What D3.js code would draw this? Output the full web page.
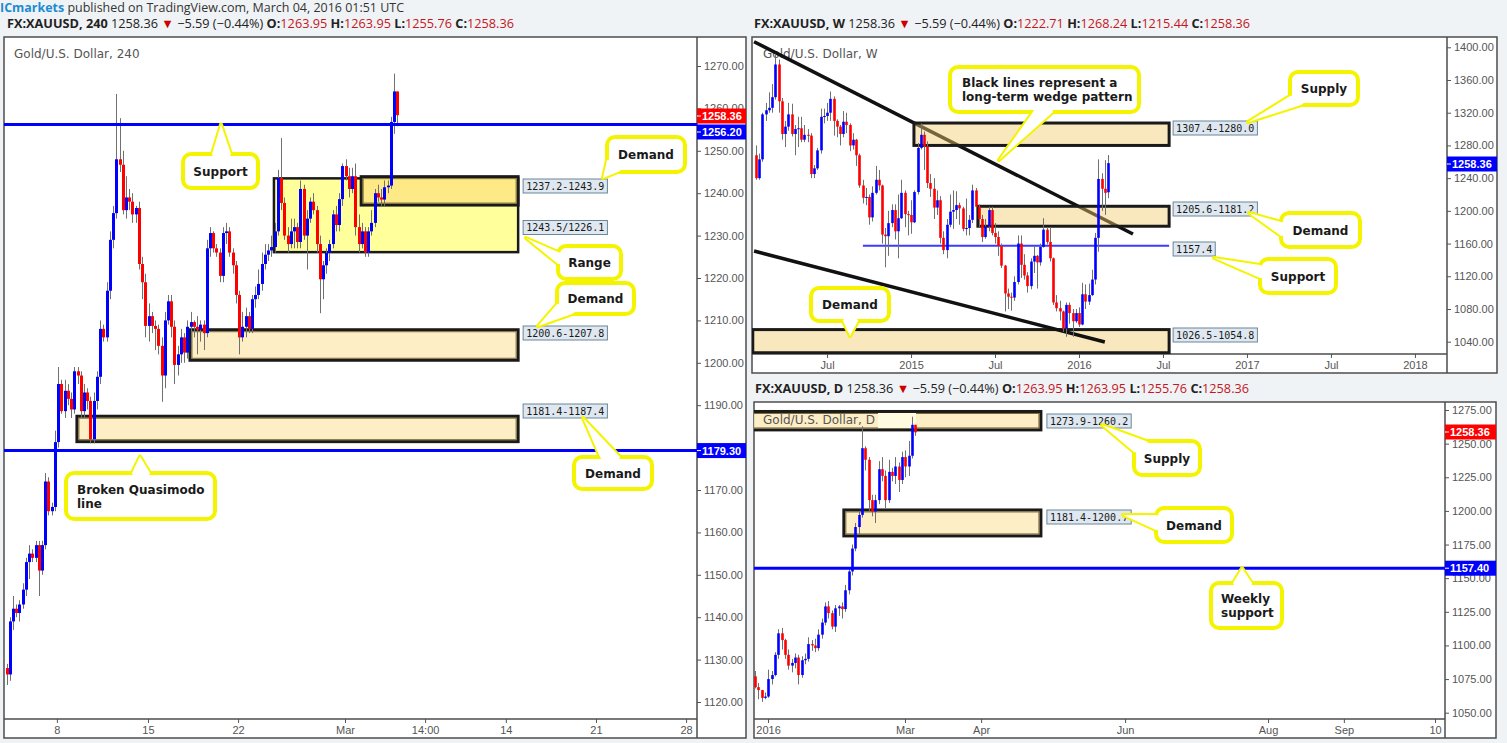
<!DOCTYPE html>
<html><head><meta charset="utf-8">
<script src="https://cdn.jsdelivr.net/npm/d3@7"></script>
<style>body{margin:0;background:#f0f3f6;}svg{display:block;}</style>
</head><body>
<svg id="c" width="1507" height="743"></svg>
<script>
// ---------------- DATA ----------------
// 240-minute candles [open, high, low, close]
const h4Candles = [
[1128,1129,1124,1126.5],[1126.5,1140,1125,1139],[1139,1145,1137,1142],[1142,1143,1140,1141],
[1141,1144,1139,1143],[1143,1148,1142,1146.5],[1146.5,1154,1145,1153],[1153,1157,1149,1155],
[1155,1156,1153,1154],[1154,1158,1153,1157],[1157,1158,1145,1151],[1151,1158,1150,1157],
[1157,1174,1156,1172],[1172,1173,1164,1165],[1165,1167,1164,1166],[1166,1184,1165,1181.3],
[1181.3,1199,1180,1195],[1195,1196,1188,1188.6],[1188.6,1196,1187,1193.4],[1193.4,1195,1190,1191.5],
[1191.5,1193,1187,1189],[1189,1199,1188,1198],[1198,1199,1195,1197],[1197,1198,1187,1188.6],
[1188.6,1195,1187,1193],[1193,1194,1189,1191],[1191,1192,1181,1182],[1182,1193,1181,1191],
[1191,1198,1189,1196.7],[1196.7,1210,1195,1208],[1208,1209,1205,1206],[1206,1219,1205,1217],
[1217,1231,1215,1229],[1229,1237,1227,1235.3],[1235.3,1263.4,1234,1248],[1248,1257.7,1245,1246.7],
[1246.7,1250,1235,1236],[1236,1244,1234,1239],[1239,1241,1236,1238],[1238,1240,1233,1235],
[1235,1237,1233,1236.5],[1236.5,1238,1222,1223.3],[1223.3,1225,1215,1219],[1219,1221,1206,1208.7],
[1208.7,1214,1205,1211],[1211,1212,1207,1208.7],[1208.7,1210,1203,1208],[1208,1209,1202,1204],
[1204,1206,1190.8,1197],[1197,1212,1194,1210],[1210,1216,1209,1214.5],[1214.5,1216,1206,1208.5],
[1208.5,1210,1195,1199.5],[1199.5,1204,1197,1202],[1202,1208,1200,1206],[1206,1207,1200,1202.4],
[1202.4,1210,1201,1208.5],[1208.5,1212,1203,1209.6],[1209.6,1210,1206,1208.5],[1208.5,1211,1202,1207.8],
[1207.8,1210,1205,1209],[1209,1210,1203,1207],[1207,1229,1206,1227],[1227,1232,1225,1230.6],
[1230.6,1231,1226,1227],[1227,1228,1225,1226],[1226,1227,1219,1220.5],[1220.5,1232,1219,1230.6],
[1230.6,1233,1228,1231],[1231,1232,1225,1226],[1226,1227,1221,1223],[1223,1224,1214,1216],
[1216,1217,1202,1206],[1206,1212,1205,1208.5],[1208.5,1213,1206,1211],[1211,1212,1207,1208],
[1208,1216,1207,1215],[1215,1218,1213,1216],[1216,1222,1215,1218.6],[1218.6,1226,1217,1223.3],
[1223.3,1228,1222,1225.5],[1225.5,1228,1224,1226.5],[1226.5,1230,1225,1227.3],[1227.3,1233,1226,1231],
[1231,1245.5,1230,1243.6],[1243.6,1253,1236,1237.7],[1237.7,1239,1229,1230],[1230,1232,1226,1228],
[1228,1234,1227,1231],[1231,1234,1227,1232],[1232,1233,1227,1228.5],[1228.5,1243,1227,1241],
[1241,1242,1229,1230],[1230,1236,1222,1234],[1234,1239,1233,1238],[1238,1240,1235,1236],
[1236,1237,1226,1228],[1228,1230,1211.7,1219.7],[1219.7,1224,1215,1223],[1223,1227,1221,1225.9],
[1225.9,1229,1224,1228],[1228,1236,1227,1235],[1235,1237,1231,1232.5],[1232.5,1240,1231,1238.6],
[1238.6,1247,1237,1246.4],[1246.4,1248,1243,1244],[1244,1246,1239,1241],[1241,1246,1240,1244],
[1244,1247,1230,1232],[1232,1235,1226,1228],[1228,1233,1227,1231],[1231,1232,1225,1226],
[1226,1232,1225,1231],[1231,1236,1230,1233],[1233,1241,1232,1240],[1240,1242,1238,1239],
[1239,1241,1237,1238.5],[1238.5,1243,1237,1241.4],[1241.4,1243,1240,1241.8],[1241.8,1258,1241,1256.8],
[1256.8,1268.2,1254,1264],[1264,1264,1255.8,1258.4]
];
const h4YTicks = [1120,1130,1140,1150,1160,1170,1180,1190,1200,1210,1220,1230,1240,1250,1260,1270];
const h4XTickIdx = [15.6,43.8,71.7,104.8,129.6,154.6,182.5,210.4];
const h4XTickLabels = ["8","15","22","Mar","14:00","14","21","28"];
// zones: [low, high, startBar, endBar, label]
const h4Zones = [
  [1226.1,1243.5,82.8,158.4,"1243.5/1226.1"],
  [1237.2,1243.9,109.8,158.4,"1237.2-1243.9"],
  [1200.6,1207.8,56.8,158.4,"1200.6-1207.8"],
  [1181.4,1187.4,21.8,158.4,"1181.4-1187.4"]
];
const h4Levels = [1256.2,1179.3];

// weekly candles Jan 2014 - Mar 2016
const wCandles = [
[1268,1280,1238,1240],[1240,1270,1238,1263],[1263,1320,1260,1318],[1318,1332,1310,1323],[1323,1345,1320,1326],
[1326,1355,1320,1339],[1339,1392,1336,1379],[1379,1385,1320,1334],[1334,1338,1287,1294],[1294,1310,1278,1303],
[1303,1332,1298,1318],[1318,1331,1291,1294],[1294,1305,1268,1300],[1300,1315,1278,1301],[1301,1315,1284,1287],
[1287,1305,1284,1293],[1293,1300,1284,1292],[1292,1295,1240,1245],[1245,1256,1240,1252],[1252,1277,1250,1274],
[1274,1325,1270,1315],[1315,1325,1307,1316],[1316,1332,1310,1320],[1320,1346,1310,1337],[1337,1340,1292,1310],
[1310,1312,1290,1303],[1303,1305,1280,1294],[1294,1322,1290,1309],[1309,1320,1295,1305],[1305,1307,1273,1280],
[1280,1295,1275,1287],[1287,1288,1255,1268],[1268,1270,1228,1231],[1231,1238,1209,1216],[1216,1228,1207,1217],
[1217,1220,1183,1192],[1192,1230,1187,1222],[1222,1255,1220,1238],[1238,1250,1225,1231],[1231,1232,1160,1171],
[1171,1179,1131,1169],[1169,1200,1145,1185],[1185,1208,1180,1201],[1201,1208,1165,1175],[1175,1220,1142,1191],
[1191,1238,1190,1222],[1222,1225,1180,1196],[1196,1200,1170,1195],[1195,1213,1172,1186],[1186,1225,1185,1223],
[1223,1283,1220,1277],[1277,1307,1275,1293],[1293,1297,1250,1279],[1279,1285,1228,1234],[1234,1245,1217,1227],
[1227,1240,1190,1204],[1204,1225,1195,1213],[1213,1218,1160,1167],[1167,1175,1147,1152],[1152,1190,1142,1183],
[1183,1220,1180,1199],[1199,1225,1178,1201],[1201,1224,1190,1207],[1207,1210,1183,1203],[1203,1205,1175,1178],
[1178,1215,1170,1179],[1179,1195,1170,1189],[1189,1232,1185,1225],[1225,1228,1200,1205],[1205,1208,1180,1190],
[1190,1195,1162,1168],[1168,1190,1166,1181],[1181,1205,1175,1201],[1201,1205,1170,1173],[1173,1185,1160,1168],
[1168,1175,1145,1157],[1157,1160,1130,1133],[1133,1134,1077,1099],[1099,1105,1080,1095],[1095,1100,1078,1094],
[1094,1120,1090,1113],[1113,1170,1110,1160],[1160,1170,1118,1134],[1134,1147,1116,1121],[1121,1125,1100,1108],
[1108,1142,1104,1138],[1138,1157,1124,1145],[1145,1146,1105,1137],[1137,1160,1133,1156],[1156,1191,1155,1177],
[1177,1180,1159,1162],[1162,1180,1138,1142],[1142,1143,1085,1088],[1088,1097,1077,1081],[1081,1090,1066,1077],
[1077,1078,1052,1056],[1056,1088,1046,1085],[1085,1088,1062,1075],[1075,1080,1046,1065],[1065,1080,1063,1075],
[1075,1082,1058,1061],[1061,1112,1060,1098],[1098,1110,1080,1089],[1089,1111,1085,1097],[1097,1128,1096,1116],
[1116,1173,1110,1167],[1167,1263,1150,1239],[1239,1246,1200,1227],[1227,1262,1195,1222],[1222.71,1268.24,1215.44,1258.36]
];
const wYTicks = [1040,1080,1120,1160,1200,1240,1280,1320,1360,1400];
const wXTickIdx = [22,48,74,100,126,152,178,204];
const wXTickLabels = ["Jul","2015","Jul","2016","Jul","2017","Jul","2018"];
const wZones = [
  [1280.0,1307.4,48.9,127.9,"1307.4-1280.0"],
  [1181.2,1205.6,68.7,127.9,"1205.6-1181.2"],
  [1026.5,1054.8,-1,127.9,"1026.5-1054.8"]
];
const wSupport = [1157.4,33.1,127.9,"1157.4"];
// wedge lines [[bar, price],[bar, price]]
const wWedgeUpper = [[-0.6,1406.8],[116.7,1171.7]];
const wWedgeLower = [[-0.6,1150.9],[108,1039.6]];

// daily candles Dec 2015 - Mar 2016
const dCandles = [
[1077,1081,1068,1069],[1069,1072,1060,1066.8],[1066.8,1067,1058,1061],[1061,1065,1060,1062],
[1062,1082,1061,1075],[1075,1081,1071,1078],[1078,1095,1077,1093],[1093,1112,1090,1109],
[1109,1113,1097,1104],[1104,1105,1090,1093],[1093,1097,1082,1085],[1085,1090,1080,1087],
[1087,1094,1083,1091],[1091,1093,1071,1078],[1078,1092,1076,1089],[1089,1094,1086,1090],
[1090,1106,1088,1101],[1101,1104,1096,1100],[1100,1105,1095,1098],[1098,1112,1096,1108],
[1108,1120,1105,1117],[1117,1132,1115,1129],[1129,1133,1120,1124],[1124,1126,1112,1114],
[1114,1130,1110,1127.6],[1127.6,1130,1122,1129],[1129,1132,1120,1127],[1127,1145,1125,1141],
[1141,1158,1138,1155],[1155,1175,1152,1172],[1172,1191,1170,1188],[1188,1200,1183,1197],
[1197,1263,1195,1246.6],[1246.6,1248,1230,1238],[1238,1240,1200,1208],[1208,1212,1196,1199.5],
[1199.5,1212,1191,1208],[1208,1237,1205,1231],[1231,1240,1222,1226],[1226,1230,1202,1208],
[1208,1238,1206,1229],[1229,1232,1222,1226],[1226,1240,1220,1233],[1233,1236,1214,1223],
[1223,1244,1220,1240],[1240,1245,1225,1233],[1233,1252,1226,1241],[1241,1270,1239,1264],
[1264,1264,1255.8,1258.4]
];
const dYTicks = [1050,1075,1100,1125,1150,1175,1200,1225,1250,1275];
const dXTickIdx = [3.9,44.9,67.7,110.8,153.6,176.3,203.6];
const dXTickLabels = ["2016","Mar","Apr","Jun","Aug","Sep","10"];
const dZones = [
  [1260.2,1273.9,-1,85.6,"1273.9-1260.2"],
  [1181.4,1200.7,26.6,85.6,"1181.4-1200.7"]
];
const dLevel = 1157.4;

// ---------------- DRAWING ----------------
const svg = d3.select('#c');
const defs = svg.append('defs');
const AX_FONT = "'Liberation Sans', Arial, sans-serif";
const CO_FONT = "'DejaVu Sans', Verdana, sans-serif";
const MONO = "'DejaVu Sans Mono', monospace";
const HDR_FONT = "'Open Sans', 'Liberation Sans', sans-serif";

function header(x, y, parts, len) {
  const t = svg.append('text').attr('x', x).attr('y', y)
    .attr('font-family', HDR_FONT).attr('font-size', 12.5).attr('fill', '#222');
  parts.forEach(p => {
    t.append('tspan').text(p[0]).attr('fill', p[1] || '#222').attr('font-weight', p[2] ? 'bold' : 'normal');
  });
  if (len) t.attr('textLength', len).attr('lengthAdjust', 'spacingAndGlyphs');
}
function quote(sym, o, h, l, c) {
  return [[sym, '#222', true], [' 1258.36 ', '#222'], ['▼', '#c00'], [' −5.59 (−0.44%) ', '#222'],
    ['O:', '#222', true], [o, '#c4161c'], [' H:', '#222', true], [h, '#c4161c'],
    [' L:', '#222', true], [l, '#c4161c'], [' C:', '#222', true], [c, '#c4161c']];
}

header(0, 12, [['ICmarkets', '#1d8bd1', true], [' published on TradingView.com, March 04, 2016 01:51 UTC', '#333']], 404);
header(7, 28, quote('FX:XAUUSD, 240', '1263.95', '1263.95', '1255.76', '1258.36'), 507);
header(754, 28, quote('FX:XAUUSD, W', '1222.71', '1268.24', '1215.44', '1258.36'), 496);
header(755, 393, quote('FX:XAUUSD, D', '1263.95', '1263.95', '1255.76', '1258.36'), 494);

function panel(cfg) {
  const g = svg.append('g');
  const f = cfg.frame, p = cfg.plot;
  g.append('rect').attr('x', f[0]).attr('y', f[1]).attr('width', f[2] - f[0]).attr('height', f[3] - f[1])
    .attr('fill', '#fff').attr('stroke', '#4d4d4d').attr('stroke-width', 1.5);
  const id = 'clip' + cfg.id;
  defs.append('clipPath').attr('id', id).append('rect')
    .attr('x', p.l).attr('y', p.t).attr('width', p.r - p.l).attr('height', p.b - p.t);
  const x = cfg.x, y = cfg.y;
  const ya = g.append('g').attr('transform', `translate(${p.r},0)`)
    .call(d3.axisRight(y).tickValues(cfg.yTicks).tickFormat(d3.format('.2f')).tickSize(4).tickPadding(3));
  const xa = g.append('g').attr('transform', `translate(0,${p.b})`)
    .call(d3.axisBottom(x).tickValues(cfg.xTickIdx).tickFormat((d, i) => cfg.xTickLabels[i]).tickSize(4).tickPadding(3));
  [ya, xa].forEach(a => {
    a.select('.domain').remove();
    a.selectAll('line').attr('stroke', '#555');
    a.selectAll('text').attr('font-family', AX_FONT).attr('font-size', 11).attr('fill', '#555');
  });
  g.append('line').attr('x1', p.r).attr('x2', p.r).attr('y1', f[1]).attr('y2', f[3]).attr('stroke', '#4d4d4d').attr('stroke-width', 1.5);
  g.append('line').attr('x1', f[0]).attr('x2', p.r).attr('y1', p.b).attr('y2', p.b).attr('stroke', '#4d4d4d').attr('stroke-width', 1.5);
  const inner = g.append('g').attr('clip-path', `url(#${id})`);
  return {
    under: inner.append('g'), zones: inner.append('g'), candles: inner.append('g'),
    over: inner.append('g'), top: g.append('g')
  };
}

function drawCandles(layer, data, x, y, bw) {
  const g = layer.selectAll('g.c').data(data).join('g');
  g.append('line')
    .attr('x1', (d, i) => Math.round(x(i)) + 0.5).attr('x2', (d, i) => Math.round(x(i)) + 0.5)
    .attr('y1', d => y(d[1])).attr('y2', d => y(d[2]))
    .attr('stroke', '#707070').attr('stroke-width', 1);
  g.append('rect')
    .attr('x', (d, i) => Math.round(x(i)) + 0.5 - bw / 2)
    .attr('y', d => y(Math.max(d[0], d[3])))
    .attr('width', bw)
    .attr('height', d => Math.max(1, Math.abs(y(d[0]) - y(d[3]))))
    .attr('fill', d => d[3] >= d[0] ? '#0000ff' : '#ff0000');
}

function zoneRect(layer, x, y, z, fill, opts) {
  opts = opts || {};
  layer.append('rect')
    .attr('x', x(z[2])).attr('y', y(z[1]))
    .attr('width', x(z[3]) - x(z[2])).attr('height', y(z[0]) - y(z[1]))
    .attr('fill', fill).attr('fill-opacity', opts.op || 1)
    .attr('stroke', '#1a1a1a').attr('stroke-width', opts.sw || 2.5);
  if (opts.inner) {
    layer.append('rect')
      .attr('x', x(z[2]) + 2).attr('y', y(z[1]) + 2)
      .attr('width', x(z[3]) - x(z[2]) - 4).attr('height', y(z[0]) - y(z[1]) - 4)
      .attr('fill', 'none').attr('stroke', '#7a6a3a').attr('stroke-width', 1);
  }
}

function priceLabel(layer, px, cy, text) {
  const t = layer.append('text').attr('x', px + 3).attr('y', cy + 3.5)
    .attr('font-family', MONO).attr('font-size', 10).attr('fill', '#1a1a1a').text(text);
  const w = t.node().getComputedTextLength();
  layer.insert('rect', () => t.node()).attr('x', px).attr('y', cy - 7).attr('width', w + 6).attr('height', 14)
    .attr('fill', '#dfe8f0').attr('stroke', '#6b8599').attr('stroke-width', 1);
}

function tag(layer, ax, right, cy, text, color) {
  layer.append('rect').attr('x', ax).attr('y', cy - 7.5).attr('width', right - ax).attr('height', 15).attr('fill', color);
  layer.append('line').attr('x1', ax).attr('x2', ax + 4).attr('y1', cy).attr('y2', cy).attr('stroke', '#fff');
  layer.append('text').attr('x', ax + 5).attr('y', cy + 4).attr('font-family', AX_FONT).attr('font-size', 11)
    .attr('font-weight', 'bold').attr('fill', '#fff').text(text);
}

function callout(layer, box, tip, base, lines, opts) {
  opts = opts || {};
  const cx = box[0] + box[2] / 2, cy = box[1] + box[3] / 2;
  const tri = `M${base[0][0]},${base[0][1]}L${tip[0]},${tip[1]}L${base[1][0]},${base[1][1]}Z`;
  const inset = base.map(b => {
    const dx = cx - b[0], dy = cy - b[1], L = Math.hypot(dx, dy);
    return [b[0] + dx / L * 5, b[1] + dy / L * 5];
  });
  const tri2 = `M${inset[0][0]},${inset[0][1]}L${base[0][0]},${base[0][1]}L${tip[0]},${tip[1]}L${base[1][0]},${base[1][1]}L${inset[1][0]},${inset[1][1]}Z`;
  const col = '#f4f400';
  layer.append('path').attr('d', tri).attr('fill', '#fff').attr('stroke', col).attr('stroke-width', 4).attr('stroke-linejoin', 'round');
  layer.append('rect').attr('x', box[0]).attr('y', box[1]).attr('width', box[2]).attr('height', box[3]).attr('rx', 8)
    .attr('fill', '#fff').attr('stroke', col).attr('stroke-width', 4);
  layer.append('path').attr('d', tri2).attr('fill', '#fff');
  const lh = 14;
  const t0 = cy - (lines.length - 1) * lh / 2 + 4.5;
  lines.forEach((ln, i) => {
    layer.append('text').attr('x', opts.left ? box[0] + opts.left : cx).attr('y', t0 + i * lh)
      .attr('text-anchor', opts.left ? 'start' : 'middle')
      .attr('font-family', CO_FONT).attr('font-weight', 'bold').attr('font-size', 12).attr('fill', '#1a1a1a').text(ln);
  });
}

// ----- Left: 240 -----
{
  const plot = {l: 4, r: 697, t: 37, b: 719};
  const x = d3.scaleLinear().domain([0, 214.706]).range([6.5, 700]);
  const y = d3.scaleLinear().domain([1120, 1270]).range([702, 66]);
  const L = panel({id: 'a', frame: [4, 37, 746, 738], plot, x, y, yTicks: h4YTicks, xTickIdx: h4XTickIdx, xTickLabels: h4XTickLabels});
  L.under.append('text').attr('x', 14).attr('y', 58).attr('font-family', CO_FONT).attr('font-size', 12)
    .attr('fill', '#555').text('Gold/U.S. Dollar, 240');
  zoneRect(L.zones, x, y, h4Zones[0], '#ffff9c', {sw: 2.5});
  zoneRect(L.zones, x, y, h4Zones[1], '#fde986', {sw: 3, inner: true});
  zoneRect(L.zones, x, y, h4Zones[2], '#fdeec6', {sw: 3, inner: true});
  zoneRect(L.zones, x, y, h4Zones[3], '#fdeec6', {sw: 3, inner: true});
  drawCandles(L.candles, h4Candles, x, y, 3);
  h4Levels.forEach(v => L.over.append('line').attr('x1', plot.l).attr('x2', plot.r).attr('y1', y(v)).attr('y2', y(v))
    .attr('stroke', '#0000ff').attr('stroke-width', 3));
  priceLabel(L.over, x(158.4) + 5, 186, h4Zones[1][4]);
  priceLabel(L.over, x(158.4) + 5, 227.5, h4Zones[0][4]);
  priceLabel(L.over, x(158.4) + 5, 333, h4Zones[2][4]);
  priceLabel(L.over, x(158.4) + 5, 411, h4Zones[3][4]);
  callout(L.over, [183, 154, 75, 34], [221, y(1256.2)], [[212, 154], [231, 154]], ['Support']);
  callout(L.over, [607, 137, 78, 35], [603, 178], [[607, 160], [618, 172]], ['Demand']);
  callout(L.over, [558, 246, 63, 33], [526, 238], [[558, 252], [558, 264]], ['Range']);
  callout(L.over, [557, 283, 77, 31], [538, 326], [[557, 304], [572, 314]], ['Demand']);
  callout(L.over, [574, 457, 78, 32], [583, 418], [[600, 457], [620, 457]], ['Demand']);
  callout(L.over, [66, 473, 149, 46], [140, y(1179.3) + 6], [[132, 473], [150, 473]], ['Broken Quasimodo', 'line'], {left: 11});
  tag(L.top, plot.r, 746, 116, '1258.36', '#ff0000');
  tag(L.top, plot.r, 746, 132, '1256.20', '#0000ff');
  tag(L.top, plot.r, 746, y(1179.3), '1179.30', '#0000ff');
}

// ----- Right top: Weekly -----
{
  const plot = {l: 752, r: 1447, t: 37, b: 354};
  const x = d3.scaleLinear().domain([0, 214.55]).range([756, 1449]);
  const y = d3.scaleLinear().domain([1040, 1400]).range([341.7, 47.3]);
  const W = panel({id: 'b', frame: [752, 37, 1497, 373], plot, x, y, yTicks: wYTicks, xTickIdx: wXTickIdx, xTickLabels: wXTickLabels});
  W.under.append('text').attr('x', 763).attr('y', 58).attr('font-family', CO_FONT).attr('font-size', 12)
    .attr('fill', '#555').text('Gold/U.S. Dollar, W');
  const wedge = l => W.under.append('line')
    .attr('x1', x(l[0][0])).attr('y1', y(l[0][1])).attr('x2', x(l[1][0])).attr('y2', y(l[1][1]))
    .attr('stroke', '#111').attr('stroke-width', 3.5);
  wedge(wWedgeUpper);
  wZones.forEach(z => zoneRect(W.under, x, y, z, '#f2cc6e', {op: 0.45, sw: 3}));
  wedge(wWedgeLower);
  W.under.append('line').attr('x1', x(wSupport[1])).attr('x2', x(wSupport[2])).attr('y1', y(wSupport[0])).attr('y2', y(wSupport[0]))
    .attr('stroke', '#3b3bff').attr('stroke-width', 2);
  drawCandles(W.candles, wCandles, x, y, 2.6);
  priceLabel(W.over, x(127.9) + 4, 128, wZones[0][4]);
  priceLabel(W.over, x(127.9) + 4, 209, wZones[1][4]);
  priceLabel(W.over, x(127.9) + 4, 249, wSupport[3]);
  priceLabel(W.over, x(127.9) + 4, 335, wZones[2][4]);
  callout(W.over, [950, 67, 189, 45], [999, 160], [[1033, 112], [1053, 112]], ['Black lines represent a', 'long-term wedge pattern'], {left: 12});
  callout(W.over, [1290, 72, 68, 33], [1248, 122], [[1290, 96], [1301, 105]], ['Supply']);
  callout(W.over, [1281, 213, 79, 34], [1249, 213], [[1281, 222], [1281, 236]], ['Demand']);
  callout(W.over, [1260, 259, 76, 34], [1214, 258], [[1260, 265], [1260, 278]], ['Support']);
  callout(W.over, [811, 288, 78, 33], [850, 336], [[843, 321], [858, 321]], ['Demand']);
  tag(W.top, plot.r, 1497, 164, '1258.36', '#0000ff');
}

// ----- Right bottom: Daily -----
{
  const plot = {l: 754, r: 1445, t: 402, b: 719};
  const x = d3.scaleLinear().domain([0, 207]).range([755, 1446.4]);
  const y = d3.scaleLinear().domain([1050, 1275]).range([712.7, 410]);
  const D = panel({id: 'c', frame: [754, 402, 1496, 738], plot, x, y, yTicks: dYTicks, xTickIdx: dXTickIdx, xTickLabels: dXTickLabels});
  dZones.forEach(z => zoneRect(D.zones, x, y, z, '#fdeec6', {sw: 3, inner: true}));
  D.zones.append('rect').attr('x', 878).attr('y', 413).attr('width', 38).attr('height', 15).attr('fill', '#fffbe0');
  D.zones.append('text').attr('x', 763).attr('y', 424).attr('font-family', CO_FONT).attr('font-size', 12)
    .attr('fill', '#555').text('Gold/U.S. Dollar, D');
  drawCandles(D.candles, dCandles, x, y, 2.6);
  D.over.append('line').attr('x1', plot.l).attr('x2', plot.r).attr('y1', y(dLevel)).attr('y2', y(dLevel))
    .attr('stroke', '#0000ff').attr('stroke-width', 3);
  priceLabel(D.over, x(85.6) + 6, 421, dZones[0][4]);
  priceLabel(D.over, x(85.6) + 6, 517, dZones[1][4]);
  callout(D.over, [1134, 441, 66, 34], [1102, 425], [[1134, 452], [1146, 441]], ['Supply']);
  callout(D.over, [1156, 508, 76, 34], [1123, 515], [[1156, 515], [1156, 530]], ['Demand']);
  callout(D.over, [1211, 583, 71, 45], [1242, y(dLevel)], [[1233, 583], [1252, 583]], ['Weekly', 'support'], {left: 10});
  tag(D.top, plot.r, 1496, 432, '1258.36', '#ff0000');
  tag(D.top, plot.r, 1496, y(dLevel), '1157.40', '#0000ff');
}
</script>
</body></html>
